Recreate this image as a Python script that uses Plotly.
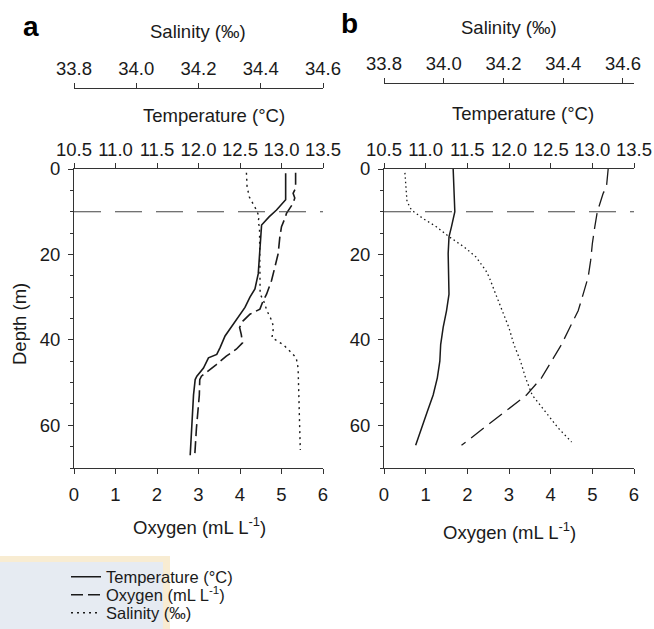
import plotly.graph_objects as go

# ---------------- data ----------------
# Panel a
a_temp_depth = [1, 7.2, 9.6, 11.2, 13.1, 19.8, 24.5, 28.1, 30.0, 32.4, 34.0, 36.3, 39.1, 41.8,
                43.4, 44.2, 46.6, 48.5, 49.3, 52.9, 60.7, 67.0]
a_temp = [13.05, 13.05, 12.94, 12.85, 12.76, 12.74, 12.72, 12.68, 12.62, 12.56, 12.50, 12.42,
          12.32, 12.26, 12.22, 12.12, 12.06, 11.98, 11.96, 11.94, 11.92, 11.90]
a_oxy_depth = [0.9, 4.5, 5.7, 6.8, 8.0, 10.4, 11.6, 13.5, 15.9, 19.8, 23.0, 26.1, 29.3, 30.8,
               32.8, 34.0, 35.6, 37.1, 38.7, 40.7, 42.2, 43.8, 45.8, 47.4, 48.5, 49.3, 52.9,
               60.7, 67.0]
a_oxy = [5.34, 5.34, 5.28, 5.32, 5.28, 5.12, 5.08, 5.00, 4.96, 4.92, 4.84, 4.76, 4.64, 4.56,
         4.48, 4.24, 4.07, 3.99, 4.03, 4.06, 3.91, 3.67, 3.43, 3.23, 3.07, 3.03, 3.02, 2.95, 2.91]
a_sal_depth = [0.9, 4.1, 6.5, 8.0, 9.6, 11.2, 12.4, 13.5, 21.4, 29.3, 30.8, 33.2, 35.6, 37.1,
               39.5, 41.1, 42.6, 44.2, 46.6, 52.9, 60.7, 65.8]
a_sal = [34.354, 34.356, 34.363, 34.375, 34.386, 34.395, 34.391, 34.396, 34.398, 34.398,
         34.409, 34.420, 34.436, 34.441, 34.436, 34.472, 34.493, 34.514, 34.520, 34.523,
         34.525, 34.527]

# Panel b
b_temp_depth = [0, 5.7, 10.0, 13.5, 15.9, 19.8, 25.3, 29.3, 33.2, 37.1, 41.1, 45.0, 48.9,
                52.9, 56.8, 60.7, 64.7]
b_temp = [11.33, 11.34, 11.35, 11.31, 11.28, 11.27, 11.28, 11.28, 11.25, 11.21, 11.18, 11.17,
          11.14, 11.09, 11.02, 10.95, 10.88]
b_oxy_depth = [0, 4.1, 5.7, 10.0, 13.5, 17.5, 21.4, 25.3, 29.3, 33.2, 37.1, 41.1, 45.0, 48.9,
               52.9, 56.8, 60.7, 64.7]
b_oxy = [5.38, 5.34, 5.26, 5.12, 5.06, 5.00, 4.96, 4.90, 4.78, 4.66, 4.46, 4.26, 4.02, 3.78,
         3.42, 2.90, 2.38, 1.86]
b_sal_depth = [0.9, 4.1, 7.6, 9.6, 11.6, 13.5, 15.9, 18.3, 20.6, 23.8, 25.3, 29.3, 33.2, 37.1,
               41.1, 45.0, 48.9, 52.9, 56.8, 60.7, 63.9]
b_sal = [33.870, 33.873, 33.877, 33.892, 33.931, 33.975, 34.019, 34.069, 34.108, 34.141,
         34.152, 34.174, 34.196, 34.218, 34.235, 34.257, 34.274, 34.296, 34.340, 34.384, 34.428]

mixed_layer_depth = 10

temp_ticks = [10.5, 11.0, 11.5, 12.0, 12.5, 13.0, 13.5]
sal_ticks = [33.8, 34.0, 34.2, 34.4, 34.6]
oxy_ticks = [0, 1, 2, 3, 4, 5, 6]
depth_ticks = [0, 20, 40, 60]

# ---------------- figure ----------------
W, H = 654, 629
FONT = "Liberation Sans, Arial, sans-serif"
INK = "#1a1a1a"
AX = "#333333"
FS = 18.5

def px(x):
    return x / W

def py(y):
    return 1 - y / H

fig = go.Figure()

# Panel a traces (each in its own legend so rows can be spaced like the reference)
fig.add_trace(go.Scatter(x=a_temp, y=a_temp_depth, xaxis="x2", yaxis="y", mode="lines",
                         line=dict(color=INK, width=1.6, dash="solid"),
                         name="Temperature (°C)", legend="legend"))
fig.add_trace(go.Scatter(x=a_oxy, y=a_oxy_depth, xaxis="x", yaxis="y", mode="lines",
                         line=dict(color=INK, width=1.6, dash="12px,5px"),
                         name="Oxygen (mL L<sup>-1</sup>)", legend="legend2"))
fig.add_trace(go.Scatter(x=a_sal, y=a_sal_depth, xaxis="x3", yaxis="y", mode="lines",
                         line=dict(color=INK, width=1.4, dash="2px,4px"),
                         name="Salinity (‰)", legend="legend3"))

# Panel b traces
fig.add_trace(go.Scatter(x=b_temp, y=b_temp_depth, xaxis="x5", yaxis="y2", mode="lines",
                         line=dict(color=INK, width=1.5, dash="solid"), showlegend=False))
fig.add_trace(go.Scatter(x=b_oxy, y=b_oxy_depth, xaxis="x4", yaxis="y2", mode="lines",
                         line=dict(color=INK, width=1.3, dash="16px,7px"), showlegend=False))
fig.add_trace(go.Scatter(x=b_sal, y=b_sal_depth, xaxis="x6", yaxis="y2", mode="lines",
                         line=dict(color=INK, width=1.3, dash="1.5px,3px"), showlegend=False))

dom_a = [px(74), px(323)]
dom_b = [px(384), px(634)]
ydom = [py(468), py(169)]

tickfont = dict(family=FONT, size=FS, color=INK)
common = dict(showline=True, linecolor=AX, linewidth=1, ticks="outside", tickcolor=AX,
              ticklen=5, tickwidth=1, showgrid=False, zeroline=False, tickfont=tickfont,
              automargin=False)

legend_common = dict(xanchor="left", yanchor="middle", bgcolor="rgba(0,0,0,0)",
                     font=dict(family=FONT, size=16.5, color=INK), borderwidth=0)

fig.update_layout(
    width=W, height=H, autosize=False,
    margin=dict(l=0, r=0, t=0, b=0, autoexpand=False),
    paper_bgcolor="white", plot_bgcolor="white",
    font=dict(family=FONT, color=INK),
    xaxis=dict(domain=dom_a, range=[0, 6], tickvals=oxy_ticks, anchor="y", side="bottom",
               ticklabelstandoff=5, **common),
    xaxis2=dict(domain=dom_a, range=[10.5, 13.5], tickvals=temp_ticks, tickformat=".1f",
                overlaying="x", anchor="y", side="top", ticklabelstandoff=0, **common),
    xaxis3=dict(domain=dom_a, range=[33.8, 34.6], tickvals=sal_ticks, tickformat=".1f",
                overlaying="x", anchor="free", position=py(88), side="top",
                ticklabelstandoff=1, **common),
    xaxis4=dict(domain=dom_b, range=[0, 6], tickvals=oxy_ticks, anchor="y2", side="bottom",
                ticklabelstandoff=5, **common),
    xaxis5=dict(domain=dom_b, range=[10.5, 13.5], tickvals=temp_ticks, tickformat=".1f",
                overlaying="x4", anchor="y2", side="top", ticklabelstandoff=0, **common),
    xaxis6=dict(domain=dom_b, range=[33.8, 34.637], tickvals=sal_ticks, tickformat=".1f",
                overlaying="x4", anchor="free", position=py(83), side="top",
                ticklabelstandoff=1, **common),
    yaxis=dict(domain=ydom, range=[70, 0], tickvals=depth_ticks, anchor="x",
               minor=dict(dtick=5, tick0=0, ticks="outside", ticklen=3, tickcolor=AX),
               ticklabelstandoff=4, **common),
    yaxis2=dict(domain=ydom, range=[70, 0], tickvals=depth_ticks, anchor="x4",
                minor=dict(dtick=5, tick0=0, ticks="outside", ticklen=3, tickcolor=AX),
                ticklabelstandoff=4, **common),
    legend=dict(x=px(66), y=py(577), **legend_common),
    legend2=dict(x=px(66), y=py(595), **legend_common),
    legend3=dict(x=px(66), y=py(613), **legend_common),
    showlegend=True,
)

# mixed layer depth dashed lines
for xref, yref in (("x domain", "y"), ("x4 domain", "y2")):
    fig.add_shape(type="line", xref=xref, yref=yref, x0=0, x1=1,
                  y0=mixed_layer_depth, y1=mixed_layer_depth,
                  line=dict(color="#444444", width=1.1, dash="27px,14px"))

# faint watermark box behind legend (as in the reference scan)
fig.add_shape(type="rect", xref="paper", yref="paper", x0=0, x1=px(170), y0=0, y1=py(556),
              fillcolor="#e6ebf2", line=dict(width=0), layer="below")
fig.add_shape(type="rect", xref="paper", yref="paper", x0=px(163), x1=px(170), y0=0, y1=py(556),
              fillcolor="#f8ecd2", line=dict(width=0), layer="below")
fig.add_shape(type="rect", xref="paper", yref="paper", x0=0, x1=px(170), y0=py(562), y1=py(556),
              fillcolor="#f8ecd2", line=dict(width=0), layer="below")

title_font = dict(family=FONT, size=FS, color=INK)
annos = [
    ("Salinity (‰)", 198, 32),
    ("Temperature (°C)", 214, 115),
    ("Oxygen (mL L<sup>-1</sup>)", 199, 526),
    ("Salinity (‰)", 509, 28),
    ("Temperature (°C)", 523, 113),
    ("Oxygen (mL L<sup>-1</sup>)", 509, 531),
]
for text, x, y in annos:
    fig.add_annotation(text=text, xref="paper", yref="paper", x=px(x), y=py(y),
                       xanchor="center", yanchor="middle", showarrow=False, font=title_font)

fig.add_annotation(text="Depth (m)", xref="paper", yref="paper", x=px(19), y=py(324),
                   xanchor="center", yanchor="middle", textangle=-90, showarrow=False,
                   font=title_font)
fig.add_annotation(text="<b>a</b>", xref="paper", yref="paper", x=px(31), y=py(27),
                   xanchor="center", yanchor="middle", showarrow=False,
                   font=dict(family=FONT, size=28, color="#000000"))
fig.add_annotation(text="<b>b</b>", xref="paper", yref="paper", x=px(349), y=py(24),
                   xanchor="center", yanchor="middle", showarrow=False,
                   font=dict(family=FONT, size=28, color="#000000"))

fig.write_html("out.html",
               config={"displayModeBar": False},
               post_script="document.body.style.margin='0px';"
                           "document.body.style.overflow='hidden';")
